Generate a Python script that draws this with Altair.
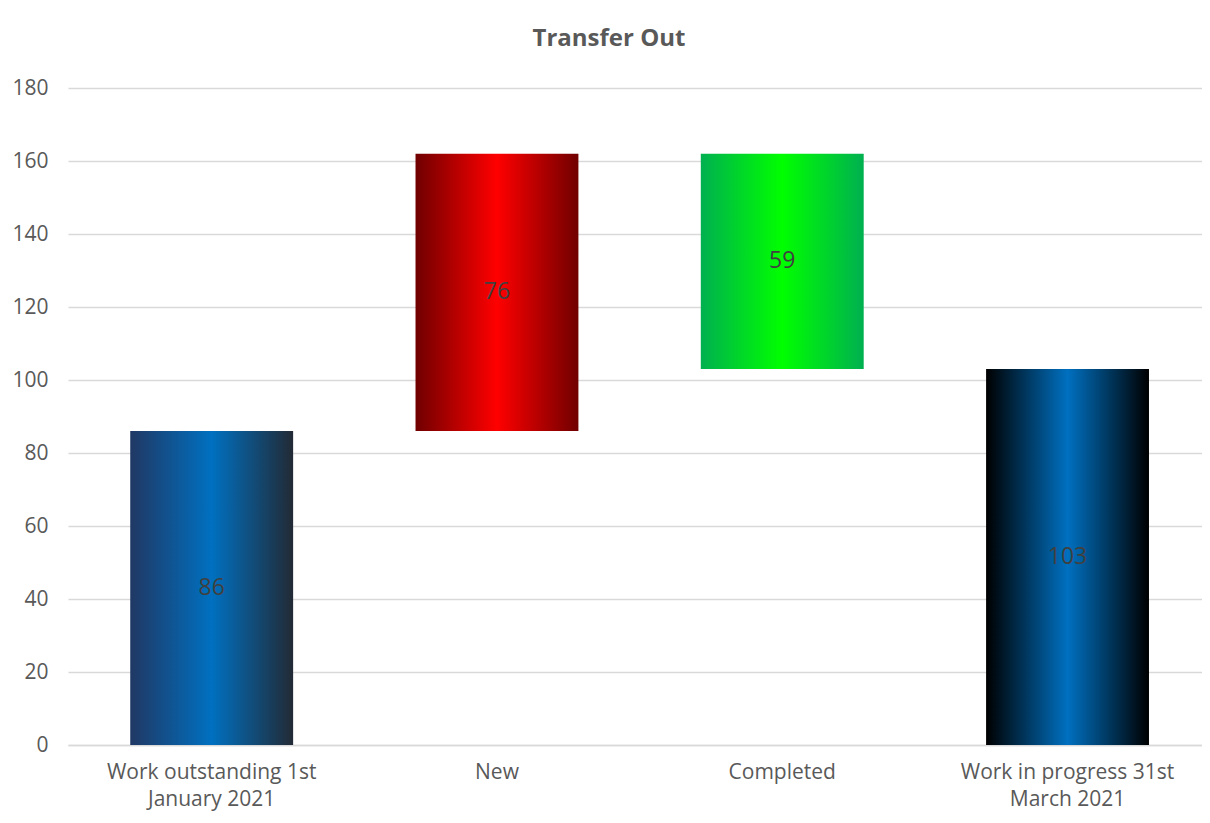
import altair as alt
import pandas as pd

categories = ["Work outstanding 1st January 2021", "New", "Completed", "Work in progress 31st March 2021"]
label_lines = [["Work outstanding 1st", "January 2021"], ["New"], ["Completed"], ["Work in progress 31st", "March 2021"]]
amounts = [86, 76, 59, 103]
kinds = ["total", "increase", "decrease", "total"]
gradients = [
    ["#203864", "#0070C0", "#222A35"],
    ["#700000", "#FF0000", "#700000"],
    ["#00B050", "#00FF00", "#00B050"],
    ["#000000", "#0070C0", "#000000"],
]

rows = []
running = 0
for cat, amt, kind in zip(categories, amounts, kinds):
    if kind == "total":
        start, end = 0, amt
        running = amt
    elif kind == "increase":
        start, end = running, running + amt
        running = end
    else:
        start, end = running, running - amt
        running = end
    rows.append({"cat": cat, "start": start, "end": end, "amt": amt, "mid": (start + end) / 2})
df = pd.DataFrame(rows)

FONT = "Open Sans"

label_expr = " : ".join(
    f"datum.label == '{c}' ? {lines!r}" for c, lines in zip(categories, label_lines)
) + " : datum.label"

x = alt.X(
    "cat:N",
    sort=categories,
    title=None,
    scale=alt.Scale(paddingInner=0.429, paddingOuter=0.202, align=0.54),
    axis=alt.Axis(
        labelExpr=label_expr,
        labelAngle=0,
        labelFont=FONT,
        labelFontSize=21,
        labelColor="#595959",
        labelPadding=16,
        labelLineHeight=27,
        ticks=False,
        domainColor="#D9D9D9",
        domainWidth=1.5,
        labelLimit=400,
    ),
)
y_scale = alt.Scale(domain=[0, 180], nice=False)
y_axis = alt.Axis(
    values=list(range(0, 181, 20)),
    labelFont=FONT,
    labelFontSize=21,
    labelColor="#595959",
    ticks=False,
    domain=False,
    gridColor="#D9D9D9",
    gridWidth=1.5,
    labelPadding=20,
    minExtent=55,
    maxExtent=55,
)

base = alt.Chart(df)
layers = []
for cat, g in zip(categories, gradients):
    grad = alt.Gradient(
        gradient="linear",
        stops=[
            alt.GradientStop(color=g[0], offset=0),
            alt.GradientStop(color=g[1], offset=0.5),
            alt.GradientStop(color=g[2], offset=1),
        ],
        x1=0, x2=1, y1=0, y2=0,
    )
    layers.append(
        base.transform_filter(alt.datum.cat == cat)
        .mark_bar(color=grad, opacity=1)
        .encode(
            x=x,
            y=alt.Y("start:Q", scale=y_scale, axis=y_axis, title=None),
            y2="end:Q",
        )
    )

text = base.mark_text(font=FONT, fontSize=23, color="#404040").encode(
    x=alt.X("cat:N", sort=categories),
    y=alt.Y("mid:Q", scale=y_scale),
    text="amt:Q",
)

chart = (
    alt.layer(*layers, text)
    .properties(
        width=1134,
        height=657,
        title=alt.TitleParams(
            "Transfer Out",
            font=FONT,
            fontSize=24,
            fontWeight="bold",
            color="#595959",
            anchor="middle",
            dx=-26,
            offset=26,
        ),
        padding={"left": 3, "top": 19, "right": 0, "bottom": 5},
    )
    .configure(background="white")
    .configure_view(stroke=None)
)

chart.save("out.html", embed_options={"renderer": "svg", "actions": False})
